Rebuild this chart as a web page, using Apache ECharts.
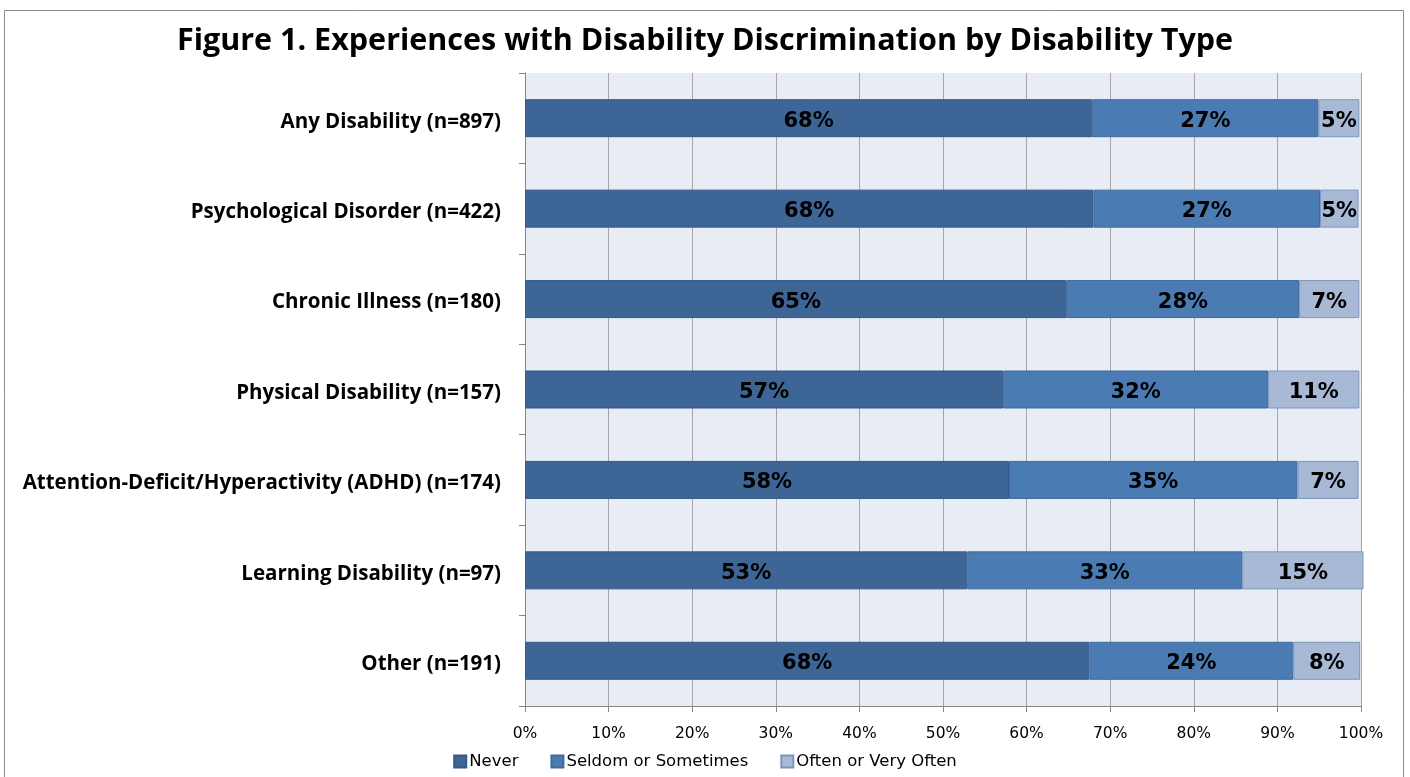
<!DOCTYPE html>
<html>
<head>
<meta charset="utf-8">
<script src="https://cdn.jsdelivr.net/npm/echarts@6/dist/echarts.min.js"></script>
<style>html,body{margin:0;padding:0;background:#fff}#c{width:1410px;height:777px}</style>
</head>
<body>
<div id="c"></div>
<script>
const categories = [
  'Any Disability (n=897)',
  'Psychological Disorder (n=422)',
  'Chronic Illness (n=180)',
  'Physical Disability (n=157)',
  'Attention-Deficit/Hyperactivity (ADHD) (n=174)',
  'Learning Disability (n=97)',
  'Other (n=191)'
];
const seriesNames = ['Never', 'Seldom or Sometimes', 'Often or Very Often'];
const never = [67.85, 68.0, 64.8, 57.2, 57.9, 52.9, 67.5];
const seldom = [27.05, 27.1, 27.8, 31.7, 34.5, 32.9, 24.4];
const often = [4.9, 4.6, 7.2, 10.9, 7.3, 14.5, 8.0];
const xTicks = [0, 10, 20, 30, 40, 50, 60, 70, 80, 90, 100];

const colors = ['#3d6596', '#4a7cb3', '#a8b9d5'];
const borders = ['#35598a', '#3e6a9e', '#7d95bd'];

const chart = echarts.init(document.getElementById('c'), null, {renderer: 'canvas'});
const mk = (name, data, i) => ({
  name, type: 'bar', stack: 'total', data, barWidth: 38, clip: false,
  itemStyle: {color: colors[i], borderColor: borders[i], borderWidth: 1},
  label: {
    show: true, position: 'inside', color: '#000', offset: [0, 3],
    fontFamily: 'DejaVu Sans', fontWeight: 'bold', fontSize: 21,
    formatter: p => Math.round(p.value) + '%'
  }
});
chart.setOption({
  animation: false,
  backgroundColor: '#fff',
  graphic: [{
    type: 'rect', shape: {x: 4.5, y: 10.5, width: 1399, height: 800},
    style: {fill: 'none', stroke: '#8c8c8c', lineWidth: 1}, silent: true, z: -1
  }],
  title: {
    text: 'Figure 1. Experiences with Disability Discrimination by Disability Type',
    left: 'center', top: 21,
    textStyle: {fontFamily: 'Open Sans', fontWeight: 'bold', fontSize: 30.5, color: '#000'}
  },
  legend: {
    data: seriesNames, bottom: 2, left: 'center', itemWidth: 12, itemHeight: 12,
    itemGap: 32, icon: 'rect',
    textStyle: {fontFamily: 'DejaVu Sans', fontSize: 16.5, color: '#000', padding: [0, 0, 0, -2]}
  },
  grid: {left: 525, right: 49, top: 73, bottom: 71, containLabel: false,
    show: true, backgroundColor: '#e8ecf4', borderWidth: 0},
  xAxis: {
    type: 'value', min: 0, max: 100, interval: 10,
    axisLine: {show: true, lineStyle: {color: '#868686'}},
    axisTick: {show: true, length: 6, lineStyle: {color: '#868686'}},
    splitLine: {show: true, lineStyle: {color: '#a6a6a6', width: 1}},
    axisLabel: {formatter: v => xTicks.includes(v) ? v + '%' : '', fontFamily: 'DejaVu Sans', fontSize: 15.5, color: '#000', margin: 20}
  },
  yAxis: {
    type: 'category', data: categories, inverse: true,
    axisLine: {show: true, lineStyle: {color: '#868686'}},
    axisTick: {show: true, length: 6, lineStyle: {color: '#868686'}},
    axisLabel: {
      color: '#000', margin: 24,
      formatter: v => '{a|' + v + '}',
      rich: {a: {fontFamily: 'Open Sans', fontWeight: 'bold', fontSize: 20.5, color: '#000', padding: [7, 0, 0, 0]}}
    }
  },
  series: [mk(seriesNames[0], never, 0), mk(seriesNames[1], seldom, 1), mk(seriesNames[2], often, 2)]
});
</script>
</body>
</html>
